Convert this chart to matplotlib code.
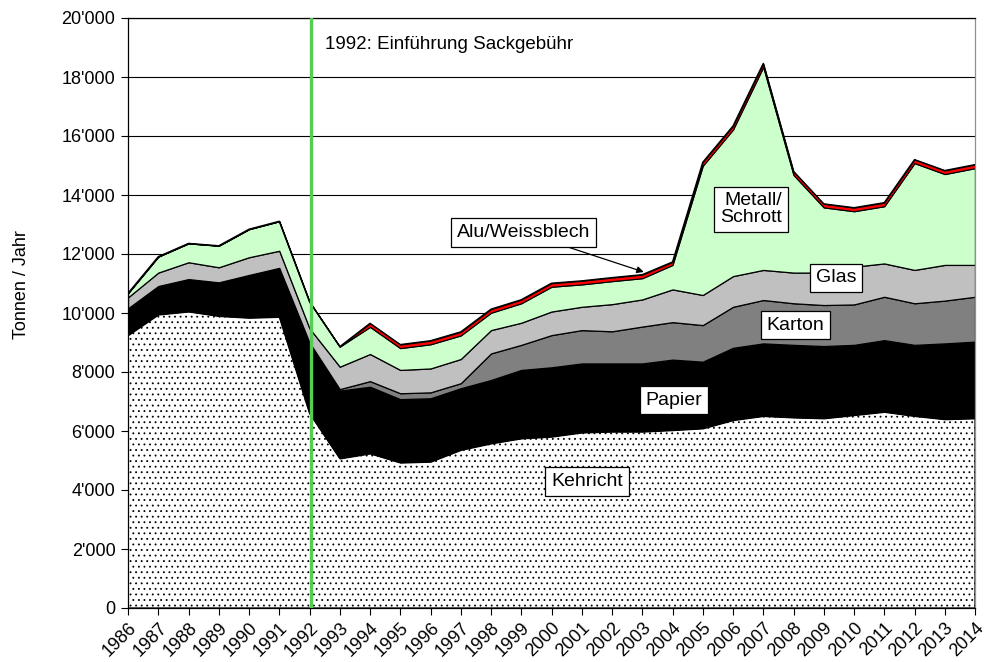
import numpy as np
import matplotlib
matplotlib.use("Agg")
import matplotlib.pyplot as plt
from matplotlib.ticker import FuncFormatter

plt.rcParams['font.family'] = ['Liberation Sans', 'DejaVu Sans']
plt.rcParams['hatch.linewidth'] = 0.6

# Jahre und Mengen in Tonnen pro Jahr
jahre = list(range(1986, 2015))
kehricht = [9250, 9950, 10050, 9900, 9840, 9870, 6600, 5070, 5240, 4930,
            4960, 5360, 5580, 5750, 5810, 5950, 5980, 5980, 6030, 6090,
            6370, 6510, 6460, 6430, 6540, 6650, 6510, 6400, 6430]
papier = [910, 965, 1100, 1140, 1450, 1660, 2400, 2300, 2260, 2150,
          2150, 2090, 2150, 2320, 2350, 2340, 2310, 2310, 2390, 2260,
          2450, 2460, 2460, 2450, 2380, 2430, 2410, 2570, 2600]
karton = [0, 0, 0, 0, 0, 0, 0, 50, 190, 200,
          200, 170, 900, 850, 1090, 1130, 1090, 1250, 1270, 1240,
          1390, 1470, 1410, 1390, 1370, 1470, 1410, 1450, 1520]
glas = [370, 455, 570, 510, 600, 580, 480, 760, 920, 790,
        810, 820, 790, 750, 800, 790, 920, 920, 1110, 1020,
        1040, 1020, 1040, 1100, 1280, 1130, 1130, 1210, 1080]
metall = [140, 540, 640, 730, 950, 1000, 900, 680, 920, 740,
          820, 800, 590, 660, 840, 760, 780, 720, 830, 4380,
          4970, 6880, 3310, 2210, 1880, 1940, 3620, 3080, 3280]
alu = [0, 0, 0, 0, 0, 0, 0, 0, 120, 120,
       120, 120, 120, 120, 120, 120, 120, 120, 100, 120,
       120, 120, 120, 120, 120, 120, 120, 120, 120]

farben = ['white', 'black', '#808080', '#C0C0C0', '#CCFFCC', '#FF0000']

fig = plt.figure(figsize=(9.89, 6.62), dpi=100)
ax = fig.add_axes([128/989, 1 - 608/662, (975-128)/989, (608-18)/662])

polys = ax.stackplot(jahre, kehricht, papier, karton, glas, metall, alu,
                     colors=farben, edgecolor='black', linewidth=0.9, zorder=2)
polys[0].set_hatch('...')
polys[0].set_edgecolor('black')
polys[5].set_linewidth(0.8)

# Gesamtlinie oben etwas kräftiger
total = np.sum([kehricht, papier, karton, glas, metall, alu], axis=0)
ax.plot(jahre, total, color='black', lw=1.0, zorder=3)

ax.axvline(1992.05, color='#55CC55', lw=2.4, zorder=4)
ax.text(1992.52, 19085, '1992: Einführung Sackgebühr', fontsize=13.5,
        va='center', ha='left', zorder=5)

box = dict(boxstyle='square,pad=0.3', fc='white', ec='black', lw=0.9)
ax.text(2001.17, 4290, 'Kehricht', fontsize=14, ha='center', va='center', bbox=box, zorder=6)
ax.text(2004.05, 7050, 'Papier', fontsize=14, ha='center', va='center', bbox=box, zorder=6)
ax.text(2008.07, 9590, 'Karton', fontsize=14, ha='center', va='center', bbox=box, zorder=6)
ax.text(2009.4, 11190, 'Glas', fontsize=14, ha='center', va='center', bbox=box, zorder=6)
ax.text(2006.6, 13510, 'Metall/\nSchrott', fontsize=14, ha='center', va='center',
        multialignment='right', linespacing=1.0, bbox=box, zorder=6)
ax.annotate('Alu/Weissblech', xy=(2003.05, 11390), xytext=(1999.08, 12730),
            fontsize=14, ha='center', va='center', bbox=box, zorder=6,
            arrowprops=dict(arrowstyle='-|>', color='black', lw=0.9,
                            mutation_scale=10, shrinkA=0, shrinkB=0))

ax.set_xlim(1986, 2014)
ax.set_ylim(0, 20000)
ax.set_xticks(jahre)
ax.set_xticklabels([str(j) for j in jahre], rotation=45, ha='right',
                   rotation_mode='anchor', fontsize=13)
ax.set_yticks(range(0, 20001, 2000))
ax.yaxis.set_major_formatter(FuncFormatter(lambda v, p: f"{int(v):,}".replace(',', "'")))
ax.tick_params(axis='y', labelsize=13, direction='out', length=5, pad=4)
ax.tick_params(axis='x', direction='out', length=5, pad=3)

ax.set_axisbelow(True)
ax.yaxis.grid(True, color='black', lw=0.8)
ax.spines['left'].set_color('black')
ax.spines['bottom'].set_color('black')
ax.spines['top'].set_color('black')
ax.spines['right'].set_color('#909090')
for s in ax.spines.values():
    s.set_linewidth(0.9)

fig.text(22/989, 1 - 285/662, 'Tonnen / Jahr', rotation=90, fontsize=13,
         ha='center', va='center')

fig.savefig('out.png', dpi=100)
